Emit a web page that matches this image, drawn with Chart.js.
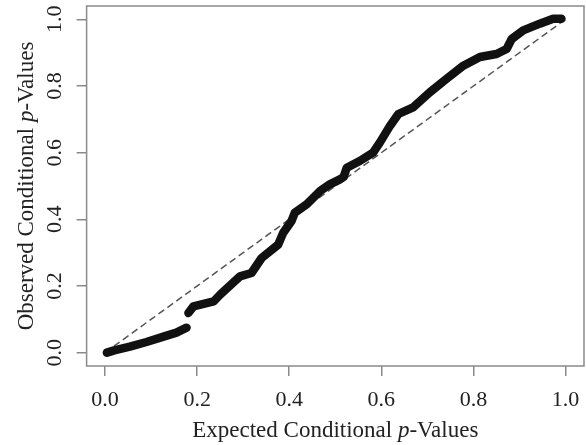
<!DOCTYPE html>
<html>
<head>
<meta charset="utf-8">
<script src="https://cdn.jsdelivr.net/npm/chart.js@4/dist/chart.umd.min.js"></script>
<style>
  body { margin: 0; background: #fff; }
  #wrap { width: 586px; height: 445px; }
</style>
</head>
<body>
<div id="wrap"><canvas id="qqChart" width="586" height="445"></canvas></div>
<script>
// values; null marks the jump in the curve
const expected = [0.004, 0.02, 0.054, 0.09, 0.127, 0.155, 0.177, null,
    0.181, 0.192, 0.236, 0.25, 0.293, 0.318, 0.34, 0.376, 0.387, 0.405, 0.412,
    0.438, 0.467, 0.488, 0.51, 0.518,
    0.525, 0.553, 0.582, 0.597, 0.619, 0.637, 0.669, 0.705, 0.741, 0.778,
    0.814, 0.85, 0.872, 0.883, 0.908, 0.944, 0.973, 0.991];
const observed = [0.0, 0.007, 0.018, 0.032, 0.048, 0.06, 0.075, null,
    0.119, 0.139, 0.154, 0.174, 0.229, 0.239, 0.284, 0.324, 0.36, 0.395, 0.42,
    0.445, 0.485, 0.505, 0.52, 0.527,
    0.555, 0.575, 0.60, 0.631, 0.681, 0.716, 0.736, 0.781, 0.821, 0.861,
    0.887, 0.896, 0.911, 0.941, 0.967, 0.987, 1.002, 1.002];
const refLine = [0, 1];
const xTicks = [0, 0.2, 0.4, 0.6, 0.8, 1.0];
const yTicks = [0, 0.2, 0.4, 0.6, 0.8, 1.0];
const xTitle = ['Expected Conditional ', 'p', '-Values'];
const yTitle = ['Observed Conditional ', 'p', '-Values'];

const serif = '"Liberation Serif", "Times New Roman", serif';
const gray = '#8a8a8a';

function pointsOf(xs, ys) {
    return xs.map((x, i) => (x === null ? {x: NaN, y: null} : {x: x, y: ys[i]}));
}

// draw a title with an italic "p"
function drawTitle(ctx, parts, cx, cy) {
    const fonts = ['23px ' + serif, 'italic 23px ' + serif, '23px ' + serif];
    let widths = parts.map((t, i) => { ctx.font = fonts[i]; return ctx.measureText(t).width; });
    let total = widths.reduce((a, b) => a + b, 0);
    let x = cx - total / 2;
    ctx.textBaseline = 'alphabetic';
    ctx.textAlign = 'left';
    ctx.fillStyle = '#222';
    parts.forEach((t, i) => {
        ctx.font = fonts[i];
        ctx.fillText(t, x, cy);
        x += widths[i];
    });
}

const framePlugin = {
    id: 'frame',
    afterDraw(chart) {
        const {ctx, chartArea: a} = chart;
        ctx.save();
        ctx.strokeStyle = gray;
        ctx.lineWidth = 1.5;
        ctx.strokeRect(a.left, a.top, a.right - a.left, a.bottom - a.top);
        // axis titles
        drawTitle(ctx, xTitle, (a.left + a.right) / 2, 437);
        ctx.translate(33, (a.top + a.bottom) / 2);
        ctx.rotate(-Math.PI / 2);
        drawTitle(ctx, yTitle, 0, 0);
        ctx.restore();
    }
};

new Chart('qqChart', {
    type: 'scatter',
    data: {
        datasets: [{
            data: pointsOf(refLine, refLine),
            showLine: true,
            borderColor: '#555',
            borderWidth: 1.5,
            borderDash: [7, 4],
            pointRadius: 0,
            order: 2
        }, {
            data: pointsOf(expected, observed),
            showLine: true,
            spanGaps: false,
            borderColor: '#111',
            borderWidth: 8.5,
            borderCapStyle: 'round',
            borderJoinStyle: 'round',
            pointRadius: 0,
            order: 1
        }]
    },
    options: {
        responsive: false,
        animation: false,
        layout: {padding: {left: 0, right: 2, top: 6, bottom: 0}},
        plugins: {legend: {display: false}, tooltip: {enabled: false}},
        scales: {
            x: {
                type: 'linear',
                min: -0.04,
                max: 1.04,
                afterBuildTicks: s => { s.ticks = xTicks.map(v => ({value: v})); },
                afterFit: s => { s.height = 79; s.paddingLeft = 0; s.paddingRight = 0; },
                border: {display: false},
                grid: {drawOnChartArea: false, drawTicks: true, tickLength: 10, color: gray, lineWidth: 1.5},
                ticks: {
                    color: '#222',
                    font: {family: serif, size: 22},
                    padding: 11,
                    maxRotation: 0,
                    callback: v => v.toFixed(1)
                }
            },
            y: {
                type: 'linear',
                min: -0.04,
                max: 1.04,
                afterBuildTicks: s => { s.ticks = yTicks.map(v => ({value: v})); },
                afterFit: s => { s.width = 86.6; s.paddingTop = 0; s.paddingBottom = 0; },
                border: {display: false},
                grid: {drawOnChartArea: false, drawTicks: true, tickLength: 10, color: gray, lineWidth: 1.5},
                ticks: {
                    color: '#222',
                    font: {family: serif, size: 22},
                    padding: 8,
                    minRotation: 90,
                    maxRotation: 90,
                    crossAlign: 'center',
                    callback: v => v.toFixed(1)
                }
            }
        }
    },
    plugins: [framePlugin]
});
</script>
</body>
</html>
